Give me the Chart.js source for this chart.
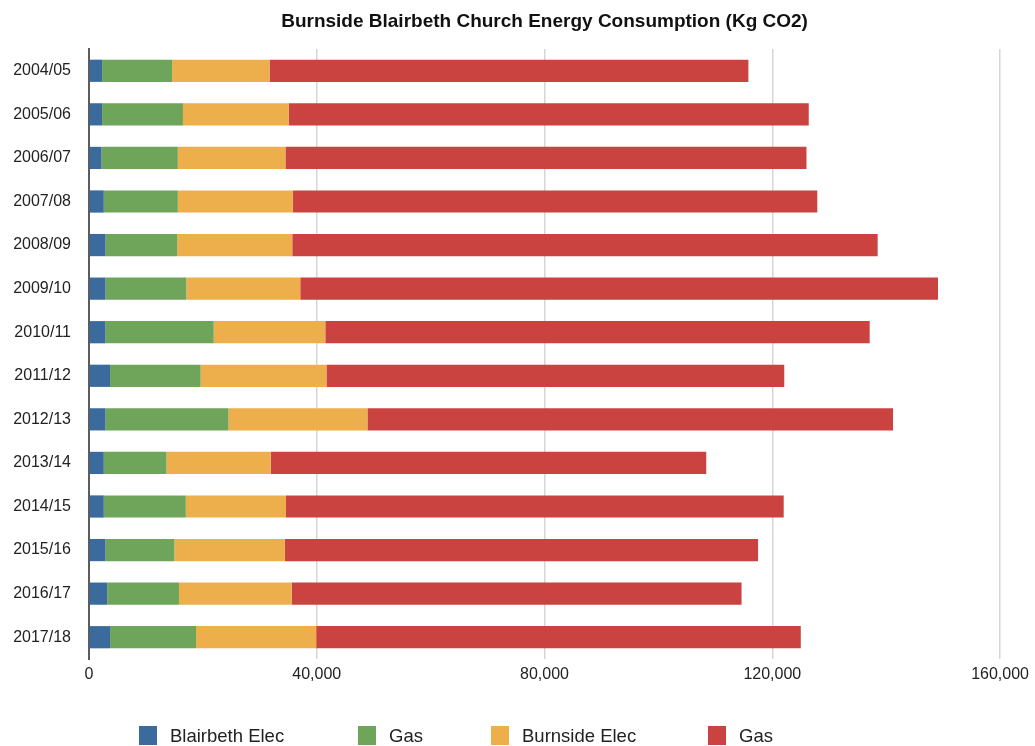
<!DOCTYPE html>
<html>
<head>
<meta charset="utf-8">
<script src="https://cdn.jsdelivr.net/npm/chart.js@4"></script>
<style>
  body { margin: 0; background: #fff; }
  #wrap { position: relative; width: 1035px; height: 746px; }
  .leg { position: absolute; top: 725px; font: 18.5px "Liberation Sans", Arial, sans-serif; color: #222; line-height: 22px; }
  .leg span { display: inline-block; width: 18px; height: 19px; vertical-align: top; margin-right: 13px; margin-top: 1px; }
</style>
</head>
<body>
<div id="wrap">
  <canvas id="bar-chart" width="1035" height="746"></canvas>
  <div class="leg" style="left:139px"><span style="background:#3b6b9c"></span>Blairbeth Elec</div>
  <div class="leg" style="left:358px"><span style="background:#6ea55a"></span>Gas</div>
  <div class="leg" style="left:491px"><span style="background:#edae4c"></span>Burnside Elec</div>
  <div class="leg" style="left:708px"><span style="background:#cb4340"></span>Gas</div>
</div>
<script>
const years = ["2004/05", "2005/06", "2006/07", "2007/08", "2008/09", "2009/10", "2010/11",
  "2011/12", "2012/13", "2013/14", "2014/15", "2015/16", "2016/17", "2017/18"];

const blairbethElec = [2300, 2300, 2200, 2600, 2900, 2900, 2900, 3700, 2900, 2600, 2600, 2900, 3200, 3700];
const blairbethGas = [12300, 14200, 13400, 13000, 12600, 14200, 19000, 15900, 21600, 11000, 14400, 12100, 12600, 15100];
const burnsideElec = [17100, 18600, 18900, 20200, 20200, 20000, 19600, 22100, 24400, 18300, 17600, 19400, 19800, 21100];
const burnsideGas = [84100, 91300, 91500, 92100, 102800, 112000, 95600, 80400, 92300, 76500, 87400, 83100, 79000, 85100];

const xTicks = [0, 40000, 80000, 120000, 160000];

const font = "'Liberation Sans', Arial, sans-serif";

// title centred over the plot area, not the whole canvas
const plotTitle = {
  id: 'plotTitle',
  afterDraw(chart) {
    const ctx = chart.ctx;
    const area = chart.chartArea;
    ctx.save();
    ctx.font = "bold 19px " + font;
    ctx.fillStyle = "#111";
    ctx.textAlign = "center";
    ctx.textBaseline = "middle";
    ctx.fillText("Burnside Blairbeth Church Energy Consumption (Kg CO2)", (area.left + area.right) / 2, 22);
    ctx.restore();
  }
};

function series(label, data, color) {
  return {
    label: label,
    data: data,
    backgroundColor: color,
    borderWidth: 0,
    categoryPercentage: 1,
    barPercentage: 0.51
  };
}

const chart = new Chart(document.getElementById("bar-chart"), {
  type: 'bar',
  data: {
    labels: years,
    datasets: [
      series("Blairbeth Elec", blairbethElec, "#3b6b9c"),
      series("Gas", blairbethGas, "#6ea55a"),
      series("Burnside Elec", burnsideElec, "#edae4c"),
      series("Gas", burnsideGas, "#cb4340")
    ]
  },
  options: {
    indexAxis: 'y',
    responsive: false,
    animation: false,
    layout: { padding: { top: 49, right: 32, left: 0, bottom: 57 } },
    plugins: {
      legend: { display: false },
      title: { display: false },
      tooltip: { enabled: false }
    },
    scales: {
      x: {
        stacked: true,
        min: 0,
        max: 160000,
        afterBuildTicks: (scale) => { scale.ticks = xTicks.map(v => ({ value: v })); },
        afterFit: (scale) => { scale.height = 30; },
        grid: { color: "#d6d6d6", lineWidth: 1.5, drawTicks: false },
        border: { display: false },
        ticks: {
          padding: 6,
          color: "#222",
          font: { family: font, size: 16 },
          callback: (v) => v.toLocaleString('en-US')
        }
      },
      y: {
        stacked: true,
        afterFit: (scale) => { scale.width = 89; },
        grid: { display: false, drawTicks: false },
        border: { display: true, color: "#5c5c5c", width: 2 },
        ticks: {
          padding: 18,
          color: "#222",
          font: { family: font, size: 16 }
        }
      }
    }
  },
  plugins: [plotTitle]
});
</script>
</body>
</html>
